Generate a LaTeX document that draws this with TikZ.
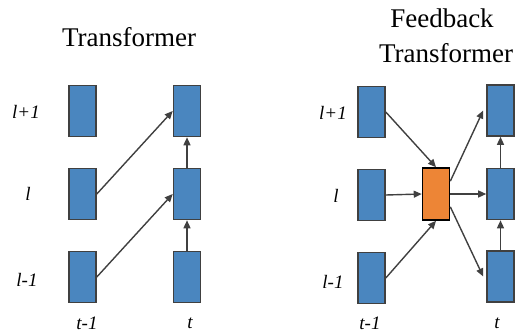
\documentclass[tikz,border=0pt]{standalone}
\usepackage{fontspec}
\setmainfont{Liberation Serif}[ItalicFont={Liberation Serif Italic}]
\usetikzlibrary{arrows.meta}
\definecolor{boxblue}{HTML}{4A86BF}
\definecolor{boxorange}{HTML}{ED8536}
\definecolor{edgegray}{HTML}{404040}
\begin{document}
\begin{tikzpicture}[x=1pt,y=-1pt,
  blk/.style={draw=edgegray,fill=boxblue,line width=1.6pt,minimum width=27pt,minimum height=51pt,inner sep=0pt},
  fb/.style={draw=black,fill=boxorange,line width=1.6pt,minimum width=27pt,minimum height=52pt,inner sep=0pt},
  conn/.style={draw=edgegray,line width=1.4pt,-{Triangle[length=8pt,width=7pt]}},
  lab/.style={font=\fontsize{19}{21}\selectfont\itshape,inner sep=0pt},
  ttl/.style={font=\fontsize{27}{32}\selectfont,inner sep=0pt}]
\useasboundingbox (0,0) rectangle (517,332);
% left panel
\node[ttl] (t1) at (129,37) {Transformer};
\node[blk] (a1) at (82.5,111) {};
\node[blk] (a2) at (82.5,194) {};
\node[blk] (a3) at (82.5,277) {};
\node[blk] (b1) at (187,111) {};
\node[blk] (b2) at (187,194) {};
\node[blk] (b3) at (187,277) {};
\node[lab] (la1) at (26,112) {l+1};
\node[lab] (la2) at (28,194) {l};
\node[lab] (la3) at (27,280) {l-1};
\node[lab] (lt1) at (87,323) {t-1};
\node[lab] (lt2) at (190,323) {t};
\draw[conn] (a2.east) -- (b1.west);
\draw[conn] (a3.east) -- (b2.west);
\draw[conn] (b3.north) -- (b2.south);
\draw[conn] (b2.north) -- (b1.south);
% right panel
\node[ttl] (t2) at (442,18) {Feedback};
\node[ttl] (t3) at (446,53) {Transformer};
\node[blk] (c1) at (371.5,112) {};
\node[blk] (c2) at (371.5,195) {};
\node[blk] (c3) at (371.5,278) {};
\node[fb] (f) at (436,194) {};
\node[blk] (d1) at (500.5,110.5) {};
\node[blk] (d2) at (500.5,194) {};
\node[blk] (d3) at (500.5,276.5) {};
\node[lab] (lc1) at (333,113) {l+1};
\node[lab] (lc2) at (336,196) {l};
\node[lab] (lc3) at (333,282) {l-1};
\node[lab] (lt3) at (370,323) {t-1};
\node[lab] (lt4) at (497,323) {t};
\draw[conn] (c1.east) -- (f.north);
\draw[conn] (c2.east) -- (f.west);
\draw[conn] (c3.east) -- (f.south);
\draw[conn] (f.north east) ++(0,14) coordinate (fo1) -- ([xshift=-3pt]d1.west);
\draw[conn] (f.east) -- (d2.west);
\draw[conn] (f.south east) ++(0,-14) coordinate (fo3) -- ([xshift=-3pt]d3.west);
\draw[conn] (d3.north) -- (d2.south);
\draw[conn] (d2.north) -- (d1.south);
\end{tikzpicture}
\end{document}
